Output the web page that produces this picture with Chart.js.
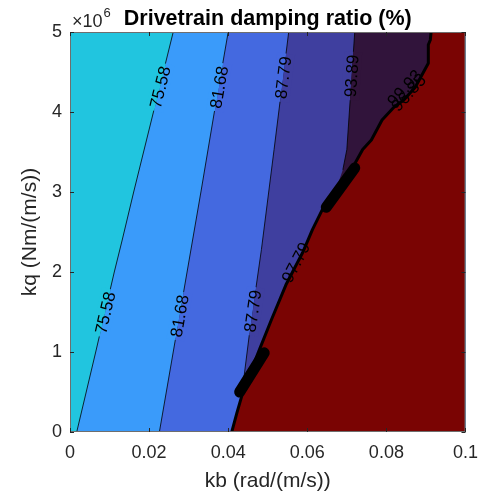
<!DOCTYPE html>
<html>
<head>
<meta charset="utf-8">
<script src="https://cdn.jsdelivr.net/npm/chart.js@4.4.0/dist/chart.umd.min.js"></script>
<style>
  html, body { margin: 0; padding: 0; background: #fff; }
  #wrap { width: 488px; height: 496px; }
</style>
</head>
<body>
<div id="wrap"><canvas id="c" width="488" height="496"></canvas></div>
<script>
// contour levels (kb in rad/(m/s), kq in Nm/(m/s))
const c7558Kq = [0, 1.0e6, 2.0e6, 2.4e6, 3.0e6, 4.0e6, 5.0e6];
const c7558Kb = [0.0017, 0.0065, 0.0112, 0.0132, 0.0161, 0.0211, 0.0261];

const c8168Kq = [0, 1.0e6, 2.0e6, 3.0e6, 4.0e6, 5.0e6];
const c8168Kb = [0.0226, 0.0261, 0.0296, 0.0331, 0.0365, 0.0400];

const c8779Kq = [0.5e6, 0.65e6, 1.24e6, 2.28e6, 3.53e6, 5.0e6];
const c8779Kb = [0.0438, 0.0439, 0.0454, 0.0484, 0.0516, 0.0553];

const c9389Kq = [3.28e6, 3.53e6, 5.0e6];
const c9389Kb = [0.0690, 0.0700, 0.0720];

// edge of the unstable (red) zone
const edgeKq = [0, 0.24e6, 0.53e6, 1.03e6, 1.4e6, 1.84e6, 2.24e6, 2.53e6, 2.78e6, 2.99e6, 3.28e6, 3.53e6, 3.65e6, 3.9e6, 4.06e6, 4.15e6, 4.31e6, 4.61e6, 4.84e6, 4.9e6, 5.0e6];
const edgeKb = [0.0409, 0.0422, 0.0439, 0.0479, 0.0509, 0.0546, 0.0588, 0.0613, 0.0638, 0.0670, 0.0712, 0.0740, 0.0762, 0.0789, 0.0819, 0.0844, 0.0873, 0.0906, 0.0906, 0.0911, 0.0913];

// clumps of overlapping labels along the edge
const clumpAKq = [2.81e6, 3.30e6];
const clumpAKb = [0.0648, 0.0720];
const clumpBKq = [0.50e6, 0.99e6];
const clumpBKb = [0.0429, 0.0491];

const kbMax = 0.1;
const kqMax = 5e6;

const colors = {
    cyan: "#21c5df",
    light: "#3a9bfa",
    royal: "#4469e0",
    slate: "#3f3f9f",
    purple: "#31143b",
    red: "#7a0403"
};

const pts = (kb, kq) => kq.map((q, i) => ({x: kb[i], y: q}));

const line7558 = pts(c7558Kb, c7558Kq);
const line8168 = pts(c8168Kb, c8168Kq);
const line8779 = pts(c8779Kb, c8779Kq);
const line9389 = pts(c9389Kb, c9389Kq);
const edge = pts(edgeKb, edgeKq);

// below where a level meets the edge, its area just follows the edge
const slateArea = edge.filter(p => p.y < c8779Kq[0]).concat(line8779);
const purpleArea = edge.filter(p => p.y < c9389Kq[0]).concat(line9389);

const labels = [
    {t: "75.58", kb: 0.0228, kq: 4.31e6, line: line7558, l: colors.cyan, r: colors.light},
    {t: "75.58", kb: 0.0089, kq: 1.49e6, line: line7558, l: colors.cyan, r: colors.light},
    {t: "81.68", kb: 0.0377, kq: 4.31e6, line: line8168, l: colors.light, r: colors.royal},
    {t: "81.68", kb: 0.0277, kq: 1.45e6, line: line8168, l: colors.light, r: colors.royal},
    {t: "87.79", kb: 0.0539, kq: 4.43e6, line: line8779, l: colors.royal, r: colors.slate},
    {t: "87.79", kb: 0.0462, kq: 1.51e6, line: line8779, l: colors.royal, r: colors.slate},
    {t: "93.89", kb: 0.0712, kq: 4.45e6, line: line9389, l: colors.slate, r: colors.purple},
    {t: "97.79", kb: 0.0571, kq: 2.12e6, line: edge},
    {t: "99.93", kb: 0.0846, kq: 4.30e6, line: edge},
    {t: "96.85", kb: 0.0856, kq: 4.24e6, line: edge}
];

const font = '"Liberation Sans", Arial, sans-serif';

function fillSet(data, color, order) {
    // fill to the right edge of the plot
    return {data: data, backgroundColor: color, borderWidth: 0, fill: {value: kbMax}, pointRadius: 0, order: order};
}
function lineSet(data, width, order) {
    return {data: data, borderColor: "#000", borderWidth: width, fill: false, pointRadius: 0, order: order, borderCapStyle: "round", borderJoinStyle: "round"};
}

const decor = {
    id: "decor",
    beforeDraw(chart) {
        const a = chart.chartArea, ctx = chart.ctx;
        ctx.save();
        ctx.fillStyle = colors.cyan;
        ctx.fillRect(a.left, a.top, a.right - a.left, a.bottom - a.top);
        ctx.restore();
    },
    afterDatasetsDraw(chart) {
        const a = chart.chartArea, ctx = chart.ctx;
        const sx = chart.scales.x, sy = chart.scales.y;
        ctx.save();

        // contour labels
        ctx.font = "17px " + font;
        ctx.textAlign = "center";
        ctx.textBaseline = "middle";
        labels.forEach(lb => {
            let k = 1;
            while (k < lb.line.length - 1 && lb.line[k].y < lb.kq) k++;
            const p0 = lb.line[k - 1], p1 = lb.line[k];
            const dx = sx.getPixelForValue(p1.x) - sx.getPixelForValue(p0.x);
            const dy = sy.getPixelForValue(p1.y) - sy.getPixelForValue(p0.y);
            const ang = Math.atan2(dy, dx);
            const px = sx.getPixelForValue(lb.kb), py = sy.getPixelForValue(lb.kq);
            ctx.save();
            ctx.translate(px, py);
            ctx.rotate(ang);
            const w = ctx.measureText(lb.t).width + 6;
            if (lb.l) {
                ctx.fillStyle = lb.l;
                ctx.fillRect(-w / 2, -9, w, 9);
                ctx.fillStyle = lb.r;
                ctx.fillRect(-w / 2, 0, w, 9);
            }
            ctx.fillStyle = "#000";
            ctx.fillText(lb.t, 0, 1);
            ctx.restore();
        });

        // box and inward ticks
        ctx.strokeStyle = "#6e6e6e";
        ctx.lineWidth = 1;
        ctx.strokeRect(a.left + 0.5, a.top + 0.5, a.right - a.left - 1, a.bottom - a.top - 1);
        ctx.strokeStyle = "#262626";
        ctx.beginPath();
        sx.ticks.forEach(t => {
            const x = Math.round(sx.getPixelForValue(t.value)) + 0.5;
            ctx.moveTo(x, a.bottom); ctx.lineTo(x, a.bottom - 4);
            ctx.moveTo(x, a.top); ctx.lineTo(x, a.top + 4);
        });
        sy.ticks.forEach(t => {
            const y = Math.round(sy.getPixelForValue(t.value)) + 0.5;
            ctx.moveTo(a.left, y); ctx.lineTo(a.left + 4, y);
            ctx.moveTo(a.right, y); ctx.lineTo(a.right - 4, y);
        });
        ctx.stroke();

        // title and exponent
        ctx.fillStyle = "#000";
        ctx.font = "bold 21.5px " + font;
        ctx.textAlign = "center";
        ctx.textBaseline = "alphabetic";
        ctx.fillText("Drivetrain damping ratio (%)", (a.left + a.right) / 2, 25);

        ctx.fillStyle = "#262626";
        ctx.textAlign = "left";
        ctx.font = "18px " + font;
        ctx.fillText("\u00d710", a.left + 2, 27);
        const w = ctx.measureText("\u00d710").width;
        ctx.font = "13px " + font;
        ctx.fillText("6", a.left + 3 + w, 17);
        ctx.restore();
    }
};

new Chart(document.getElementById("c"), {
    type: "line",
    data: {
        datasets: [
            fillSet(line7558, colors.light, 10),
            fillSet(line8168, colors.royal, 9),
            fillSet(slateArea, colors.slate, 8),
            fillSet(purpleArea, colors.purple, 7),
            fillSet(edge, colors.red, 6),
            lineSet(line7558, 0.8, 5),
            lineSet(line8168, 0.8, 5),
            lineSet(line8779, 0.8, 5),
            lineSet(line9389, 0.8, 5),
            lineSet(edge, 3, 4),
            lineSet(pts(clumpAKb, clumpAKq), 11, 3),
            lineSet(pts(clumpBKb, clumpBKq), 11, 3)
        ]
    },
    options: {
        responsive: false,
        animation: false,
        indexAxis: "y",
        layout: {padding: {top: 32, right: 15, left: 0, bottom: 0}},
        plugins: {legend: {display: false}, tooltip: {enabled: false}, title: {display: false}},
        scales: {
            x: {
                type: "linear", position: "bottom", min: 0, max: kbMax,
                grid: {display: false, drawTicks: false}, border: {display: false},
                ticks: {stepSize: 0.02, padding: 10, maxRotation: 0, color: "#262626", font: {family: font, size: 18},
                    callback: v => String(+v.toFixed(2))},
                title: {display: true, text: "kb (rad/(m/s))", color: "#262626", font: {family: font, size: 21}, padding: {top: 0, bottom: 2}},
                afterFit: s => { s.height = 64; }
            },
            y: {
                type: "linear", position: "left", min: 0, max: kqMax,
                grid: {display: false, drawTicks: false}, border: {display: false},
                ticks: {stepSize: 1e6, padding: 8, color: "#262626", font: {family: font, size: 18},
                    callback: v => String(v / 1e6)},
                title: {display: true, text: "kq (Nm/(m/s))", color: "#262626", font: {family: font, size: 21}, padding: {top: 18, bottom: 0}},
                afterFit: s => { s.width = 70; }
            }
        }
    },
    plugins: [decor]
});
</script>
</body>
</html>
